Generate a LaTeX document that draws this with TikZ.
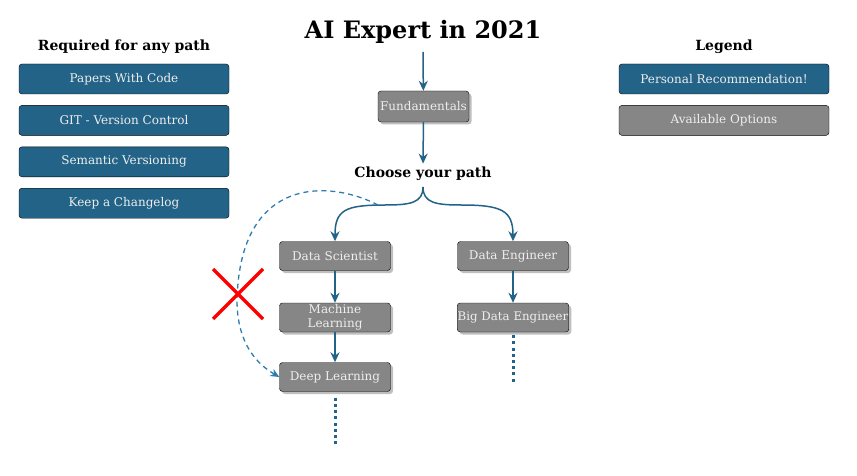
\documentclass[tikz,border=0pt]{standalone}
\usepackage{fontspec}
\setmainfont{DejaVu Serif}
\usepackage{tikz}
\usetikzlibrary{positioning}
\usetikzlibrary{calc}
\usetikzlibrary{shadows}
\usetikzlibrary{arrows.meta}
\definecolor{recblue}{HTML}{236387}
\definecolor{optgray}{HTML}{868686}
\definecolor{boxtext}{HTML}{EEEEEE}
\definecolor{flowblue}{HTML}{236387}
\definecolor{skipblue}{HTML}{2E7DAF}
\tikzset{recbox/.style={rectangle, rounded corners=3pt, draw=black, fill=recblue, text=boxtext, minimum width=210pt, minimum height=30pt, inner sep=0.5pt, font=\fontsize{12}{13}\selectfont}}
\tikzset{optbox/.style={recbox, fill=optgray}}
\tikzset{pathbox/.style={optbox, minimum width=111pt, minimum height=29pt, align=center, drop shadow={shadow xshift=2.5pt, shadow yshift=-2.5pt, fill=black!25, opacity=1}}}
\tikzset{heading/.style={font=\bfseries\fontsize{14}{16}\selectfont}}
\tikzset{flow/.style={draw=flowblue, line width=1.5pt, -{Stealth[length=10pt,width=9pt]}}}
\tikzset{later/.style={draw=flowblue, line width=3pt, dash pattern=on 3pt off 3.2pt}}

\begin{document}
\begin{tikzpicture}[x=1pt, y=1pt, node distance=11pt]
\useasboundingbox (0,0) rectangle (857,475);
\node[font=\bfseries\fontsize{24}{26}\selectfont] (title) at (423,443) {AI Expert in 2021};
\node[pathbox, minimum width=91pt, minimum height=31pt] (fund) at (423.5,368.5) {Fundamentals};
\node[heading] (choose) at (423,301) {Choose your path};
\coordinate (ttop) at (423,423);
\coordinate (fork) at (423,288);
\coordinate (skip) at (378,270);

\node[pathbox] (ds) at (335,219) {Data Scientist};
\node[pathbox, font=\fontsize{12}{13.5}\selectfont] (ml) at (335,157.5) {Machine\\Learning};
\node[pathbox] (dl) at (335,98) {Deep Learning};
\node[pathbox] (de) at (513,219) {Data Engineer};
\node[pathbox, font=\fontsize{11.8}{13}\selectfont] (bde) at (513,157.5) {Big Data Engineer};
\coordinate (dlend) at (335,28);
\coordinate (bdeend) at (513,93);

% required for any path
\node[heading] (req) at (124,428) {Required for any path};
\node[recbox] (pwc) at (124,396) {Papers With Code};
\node[recbox, below=of pwc] (git) {GIT - Version Control};
\node[recbox, below=of git] (semver) {Semantic Versioning};
\node[recbox, below=of semver] (changelog) {Keep a Changelog};

% legend
\node[heading] (legend) at (724,428) {Legend};
\node[recbox] (personal) at (724,396) {Personal Recommendation!};
\node[optbox, below=of personal] (avail) {Available Options};

\draw[flow] (ttop) -- (fund);
\draw[flow] (fund) -- (choose);
\draw[flow] (fork) .. controls (423,272) and (410,270) .. (385,270) .. controls (345,270) and (335,265) .. (ds.north);
\draw[flow] (fork) .. controls (423,272) and (436,270) .. (461,270) .. controls (501,270) and (513,265) .. (de.north);
\draw[flow] (ds) -- (ml);
\draw[flow] (ml) -- (dl);
\draw[flow] (de) -- (bde);
\draw[later] ($(dl.south)+(0,-6)$) -- (dlend);
\draw[later] ($(bde.south)+(0,-3)$) -- (bdeend);
\draw[draw=skipblue, line width=1.3pt, dashed, dash pattern=on 5pt off 4pt, -{Stealth[length=9pt,width=8pt]}] (skip) .. controls (330,295) and (240,300) .. (237,175) .. controls (237,140) and (250,115) .. (dl.west);
\draw[red, line width=3.5pt] (213,206) -- (263,156);
\draw[red, line width=3.5pt] (213,156) -- (263,206);
\end{tikzpicture}
\end{document}
